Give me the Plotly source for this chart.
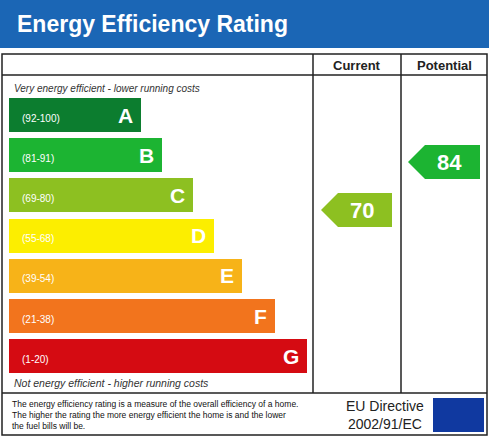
import plotly.graph_objects as go
import math

bands = ["A", "B", "C", "D", "E", "F", "G"]
ranges = ["(92-100)", "(81-91)", "(69-80)", "(55-68)", "(39-54)", "(21-38)", "(1-20)"]
bar_end = [141, 162, 193, 214, 242, 275, 307]
colors = ["#0c7d2f", "#1cb432", "#8dc021", "#fcee00", "#f7b318", "#f2741d", "#d50b12"]
current_value = 70
potential_value = 84

W, H = 489, 437
row_c = [115 + 40.2 * i for i in range(7)]
fig = go.Figure()
fig.add_trace(go.Bar(y=row_c, x=[e - 9 for e in bar_end], base=9, orientation="h",
                     width=34, marker=dict(color=colors, line=dict(width=0)),
                     hoverinfo="skip", showlegend=False))
shapes = []
ann = []
shapes.append(dict(type="rect", x0=0, x1=W, y0=0, y1=48, fillcolor="#1b66b5", line_width=0, layer="below"))
ann.append(dict(x=15, y=24, text="<b>Energy Efficiency Rating</b>", xanchor="left", showarrow=False,
                font=dict(color="white", size=23, family="Liberation Sans")))
L = dict(color="#222", width=1.5)
shapes += [dict(type="rect", x0=2, x1=487, y0=54, y1=435, line=L),
           dict(type="line", x0=2, x1=487, y0=75, y1=75, line=L),
           dict(type="line", x0=2, x1=487, y0=393, y1=393, line=L),
           dict(type="line", x0=313, x1=313, y0=54, y1=393, line=L),
           dict(type="line", x0=401, x1=401, y0=54, y1=393, line=L)]
ann += [dict(x=357, y=65, text="<b>Current</b>", showarrow=False, font=dict(size=13, color="#222")),
        dict(x=444, y=65, text="<b>Potential</b>", showarrow=False, font=dict(size=13, color="#222")),
        dict(x=12, y=88, text="<i>Very energy efficient - lower running costs</i>", xanchor="left",
             showarrow=False, font=dict(size=10, color="#333")),
        dict(x=12, y=383, text="<i>Not energy efficient - higher running costs</i>", xanchor="left",
             showarrow=False, font=dict(size=10.5, color="#333"))]
for i, b in enumerate(bands):
    tc = "white"
    ann.append(dict(x=20, y=row_c[i] + 3, text=ranges[i], xanchor="left", showarrow=False,
                    font=dict(size=10, color=tc)))
    ann.append(dict(x=bar_end[i] - 6, y=row_c[i], text="<b>%s</b>" % b, xanchor="right", showarrow=False,
                    font=dict(size=21, color=tc, family="Liberation Sans")))

def band_index(v):
    lows = [92, 81, 69, 55, 39, 21, 1]
    for i, lo in enumerate(lows):
        if v >= lo:
            return i
    return 6

def pointer(x0, x1, yc, val):
    i = band_index(val)
    h = 17
    xs = [x0, x0 + 17, x1, x1, x0 + 17, x0]
    ys = [yc, yc - h, yc - h, yc + h, yc + h, yc]
    fig.add_trace(go.Scatter(x=xs, y=ys, fill="toself", fillcolor=colors[i], mode="lines",
                             line=dict(width=0), hoverinfo="skip", showlegend=False))
    ann.append(dict(x=(x0 + 17 + x1) / 2 - 3, y=yc, text="<b>%d</b>" % val, showarrow=False,
                    font=dict(size=22, color="white" if i != 3 else "#222")))

pointer(321, 392, 210, current_value)
pointer(408, 480, 162, potential_value)
ann += [dict(x=10, y=415, text="The energy efficiency rating is a measure of the overall efficiency of a home.<br>"
             "The higher the rating the more energy efficient the home is and the lower<br>the fuel bills will be.",
             xanchor="left", align="left", showarrow=False, font=dict(size=8.5, color="#111")),
        dict(x=385, y=415, text="EU Directive<br>2002/91/EC", showarrow=False,
             font=dict(size=14, color="#222"))]
shapes.append(dict(type="rect", x0=433, x1=484, y0=398, y1=432, fillcolor="#1039a0", line_width=0))
sx = [458.5 + 11 * math.cos(2 * math.pi * k / 12) for k in range(12)]
sy = [415 + 11 * math.sin(2 * math.pi * k / 12) for k in range(12)]
fig.add_trace(go.Scatter(x=sx, y=sy, mode="markers", marker=dict(symbol="star", size=4, color="#ffdd00"),
                         hoverinfo="skip", showlegend=False))

fig.update_layout(width=W, height=H, margin=dict(l=0, r=0, t=0, b=0),
                  paper_bgcolor="white", plot_bgcolor="white", shapes=shapes, annotations=ann,
                  font=dict(family="Liberation Sans"),
                  xaxis=dict(range=[0, W], visible=False, fixedrange=True),
                  yaxis=dict(range=[H, 0], visible=False, fixedrange=True), bargap=0)
fig.write_html("out.html", config={"displayModeBar": False})
with open("out.html", encoding="utf-8") as f:
    html = f.read()
html = html.replace("<head>", "<head><style>html,body{margin:0;padding:0;overflow:hidden}</style>", 1)
with open("out.html", "w", encoding="utf-8") as f:
    f.write(html)
